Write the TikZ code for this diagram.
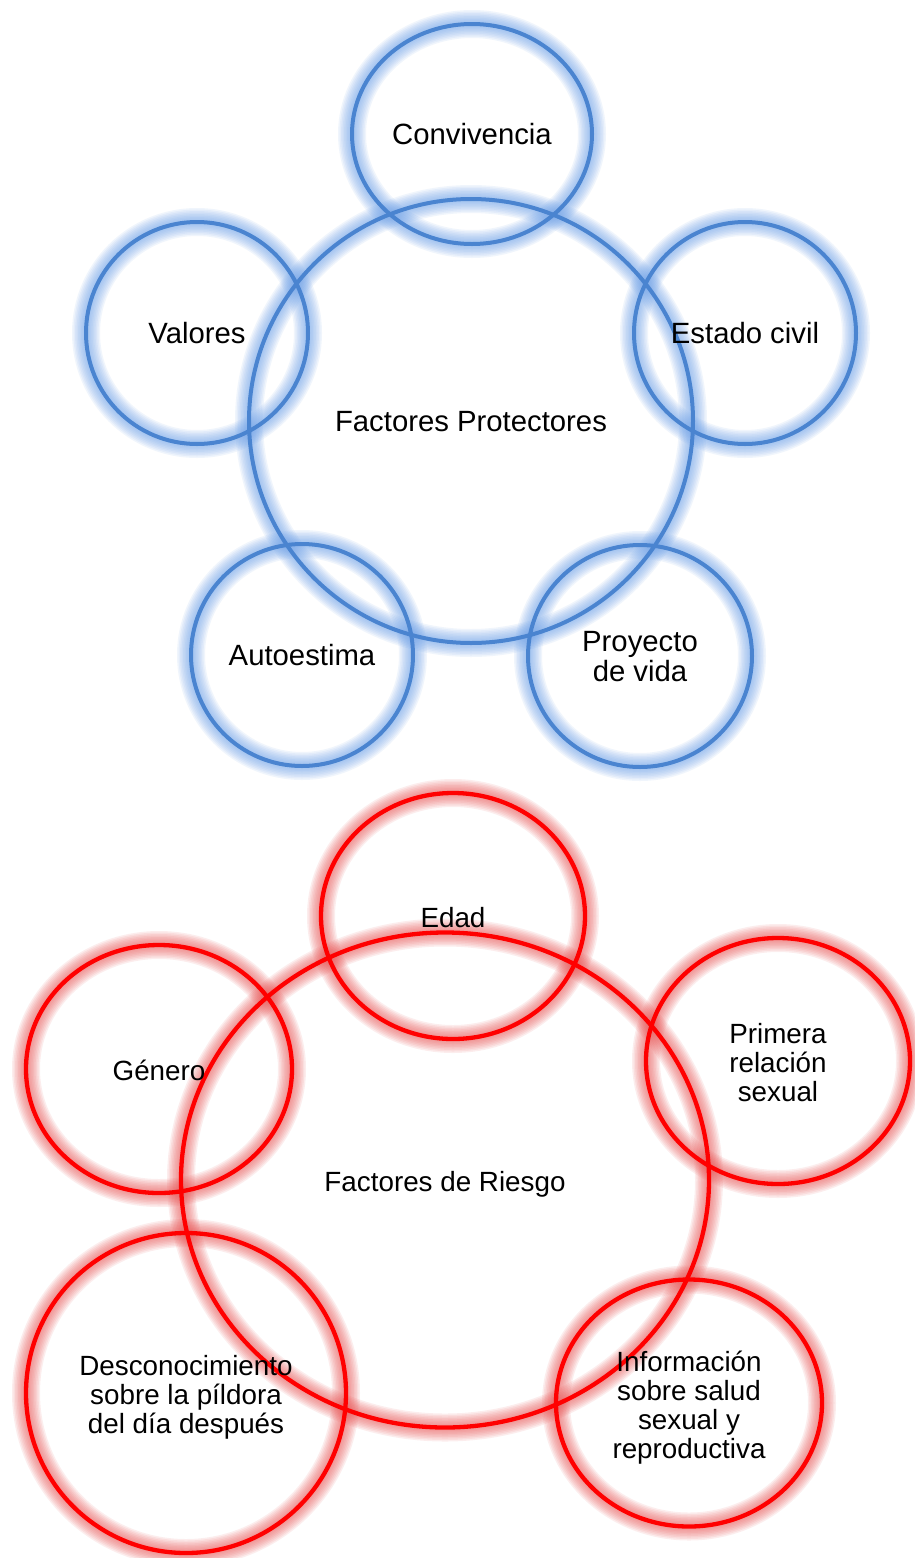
\documentclass[tikz,border=0pt]{standalone}
\usepackage{fontspec}
\setmainfont{Liberation Sans}
\usetikzlibrary{shapes.geometric,backgrounds}
\definecolor{blueline}{RGB}{74,132,208}
\definecolor{blueglow}{RGB}{115,165,235}
\definecolor{redline}{RGB}{255,0,0}
\definecolor{redglow}{RGB}{235,85,85}
\newcommand{\bluetop}{\rule{0pt}{0.966em}}
\newcommand{\redtop}{\rule{0pt}{1.11em}}
\begin{document}
\begin{tikzpicture}[x=1pt,y=-1pt,
  shapebase/.style={ellipse, inner sep=0pt, align=center, text=black,
    execute at end node={\rule[-0.25em]{0pt}{0.25em}}},
  bluering/.style={shapebase, draw=blueline, line width=4pt, font=\fontsize{29.3}{30}\selectfont},
  redring/.style={shapebase, draw=redline, line width=4.3pt, font=\fontsize{27.8}{29}\selectfont},
  glowpen/.style={line width=#1}
]
\useasboundingbox (0,0) rectangle (914,1558);
\clip (0,0) rectangle (914,1558);
% blue group
\node[bluering, minimum width=444pt, minimum height=444pt] (prot) at (471,421) {\bluetop Factores Protectores};
\node[bluering, minimum width=240pt, minimum height=220pt] (conv) at (472,134) {\bluetop Convivencia};
\node[bluering, minimum width=222pt, minimum height=222pt] (val) at (197,333) {\bluetop Valores};
\node[bluering, minimum width=222pt, minimum height=222pt] (est) at (745,333) {\bluetop Estado civil};
\node[bluering, minimum width=222pt, minimum height=222pt] (auto) at (302,655) {\bluetop Autoestima};
\node[bluering, minimum width=224pt, minimum height=222pt] (proy) at (640,656) {\bluetop Proyecto\\de vida};
% red group
\node[redring, minimum width=528pt, minimum height=495pt] (risk) at (445,1180) {\redtop Factores de Riesgo};
\node[redring, minimum width=264pt, minimum height=246pt] (edad) at (453,916) {\redtop Edad};
\node[redring, minimum width=266pt, minimum height=248pt] (gen) at (159,1069) {\redtop Género};
\node[redring, minimum width=264pt, minimum height=246pt] (prim) at (778,1061) {\redtop Primera\\relación\\sexual};
\node[redring, minimum width=320pt, minimum height=320pt] (desc) at (186,1393) {\redtop Desconocimiento\\sobre la píldora\\del día después};
\node[redring, minimum width=266pt, minimum height=247pt] (info) at (689,1403) {\redtop Información\\sobre salud\\sexual y\\reproductiva};
% glows
\begin{scope}[on background layer]
\fill[white] (0,0) rectangle (914,1558);
\foreach \n/\rx/\ry in {prot/222/222, conv/120/110, val/111/111, est/111/111, auto/111/111, proy/112/111}{
  \foreach \w in {28,25,22,19,16,13,10,7}{
    \draw[blueglow, glowpen=\w pt, opacity=0.1] (\n.center) ellipse [x radius=\rx pt, y radius=\ry pt];
  }
}
\foreach \n/\rx/\ry in {risk/264/247.5, edad/132/123, gen/133/124, prim/132/123, desc/160/160, info/133/123.5}{
  \foreach \w in {28,25,22,19,16,13,10,7}{
    \draw[redglow, glowpen=\w pt, opacity=0.1] (\n.center) ellipse [x radius=\rx pt, y radius=\ry pt];
  }
}
\end{scope}
\end{tikzpicture}
\end{document}
